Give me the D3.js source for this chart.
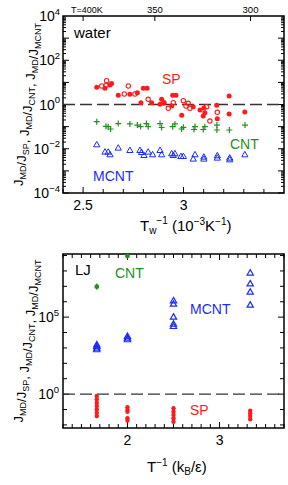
<!DOCTYPE html>
<html><head><meta charset="utf-8">
<script src="https://cdn.jsdelivr.net/npm/d3@7"></script>
<style>
body{margin:0;background:#fff}
svg{display:block}
text{font-family:"Liberation Sans",Arial,Helvetica,sans-serif}
</style>
</head><body>
<svg id="c" width="288" height="485"></svg>
<script>
// ---------- DATA ----------
// Top panel: water, x = 1/Tw (10^-3 K^-1), y = ratio
const waterSPFilled = [
 [2.568,5.98],[2.609,5.40],[2.634,7.60],[2.642,8.89],[2.675,2.61],[2.733,2.89],
 [2.770,3.41],[2.800,5.40],[2.819,5.40],[2.788,1.21],[2.841,1.21],[2.883,1.02],
 [2.891,1.72],[2.946,2.61],[2.962,2.61],[2.941,0.855],[2.991,0.325],[3.048,0.794],
 [3.098,0.302],[3.106,0.426],[3.165,0.92],[3.168,0.228],[3.227,2.42],[3.227,0.372],
 [3.305,0.458],[2.902,1.17],[3.082,0.56],[3.101,0.69]
];
const waterSPOpen = [
 [2.593,6.85],[2.617,11.9],[2.614,7.23],[2.725,6.85],[2.705,2.99],[2.758,2.99],
 [2.824,1.72],[2.902,1.21],[2.924,0.673],[2.999,1.49],[3.023,1.13],[3.032,0.673],
 [3.012,0.85],[3.115,0.794],[3.168,0.444],[3.131,0.179],[2.949,1.21]
];
const waterCNT = [
 [2.568,0.167],[2.614,0.103],[2.625,0.0993],[2.637,0.0782],[2.675,0.138],[2.733,0.132],
 [2.770,0.118],[2.786,0.101],[2.815,0.138],[2.824,0.0993],[2.883,0.138],[2.891,0.0912],
 [2.946,0.0993],[2.957,0.132],[2.990,0.0782],[2.999,0.0931],[3.052,0.0741],[3.057,0.101],
 [3.098,0.0741],[3.106,0.0993],[3.166,0.118],[3.166,0.0703],[3.228,0.0703],[3.306,0.118]
];
const waterMCNT = [
 [2.568,0.01476],[2.609,0.0069],[2.625,0.0069],[2.634,0.00522],[2.675,0.01047],[2.733,0.00817],
 [2.783,0.00817],[2.791,0.00662],[2.803,0.00485],[2.824,0.0069],[2.846,0.00522],[2.883,0.00817],
 [2.891,0.00522],[2.941,0.00579],[2.957,0.00579],[2.949,0.00485],[2.987,0.00437],[2.999,0.00437],
 [3.048,0.00333],[3.057,0.00522],[3.101,0.00411],[3.101,0.00333],[3.168,0.0047],[3.168,0.0037],
 [3.230,0.0037],[3.230,0.0031],[3.305,0.00522]
];
const waterXDomain = [2.4, 3.5];
const waterYDomain = [1e-4, 1e4];
const waterXTickLabels = [2.5, 3];
const waterYTickExps = [-4, -2, 0, 2, 4];
const waterTopTemps = [400, 350, 300];
const waterTopLabels = ["T=400K", "350", "300"];

// Bottom panel: LJ, x = 1/T (kB/eps), y = ratio
const ljCNT = [[1.667, 9.5e6], [2.0, 9.3e8]];
const ljCNTErr = [[6.0e6, 1.5e7], [6.5e8, 1.3e9]];
const ljMCNT = [
 [1.667,1550],[1.667,1230],[1.667,955],[1.667,741],
 [2.0,5370],[2.0,4270],[2.0,3310],
 [2.5,1.12e6],[2.5,6.76e5],[2.5,9.8e4],[2.5,3.39e4],[2.5,2.4e4],
 [3.333,7.08e7],[3.333,1.41e7],[3.333,4.07e6],[3.333,5.89e5]
];
const ljSP = [
 [1.667,0.759],[1.667,0.462],[1.667,0.278],[1.667,0.170],[1.667,0.104],[1.667,0.0624],[1.667,0.038],
 [2.0,0.140],[2.0,0.0933],[2.0,0.0724],[2.0,0.0269],[2.0,0.0191],
 [2.5,0.120],[2.5,0.0724],[2.5,0.0447],[2.5,0.0269],[2.5,0.0162],
 [3.333,0.0832],[3.333,0.0575],[3.333,0.038],[3.333,0.0234]
];
const ljXDomain = [1.3, 3.7];
const ljYDomain = [Math.pow(10,-2.2), Math.pow(10,9.1)];
const ljXTickLabels = [2, 3];
const ljYTickExps = [0, 5];

// ---------- DRAWING ----------
const RED = "#ff1a1a", GREEN = "#229022", BLUE = "#1a2cff";
const svg = d3.select("#c");

const L = 63, R = 284;
const T1 = 16, B1 = 193, T2 = 254, B2 = 428;

const xT = d3.scaleLinear().domain(waterXDomain).range([L, R]);
const yT = d3.scaleLog().domain(waterYDomain).range([B1, T1]);
const xB = d3.scaleLinear().domain(ljXDomain).range([L, R]);
const yB = d3.scaleLog().domain(ljYDomain).range([B2, T2]);

function vline(g, x, y, len) {
  g.append("line").attr("x1", x).attr("x2", x).attr("y1", y).attr("y2", y + len)
   .attr("stroke", "#000").attr("stroke-width", 1);
}
function hline(g, x, y, len) {
  g.append("line").attr("x1", x).attr("x2", x + len).attr("y1", y).attr("y2", y)
   .attr("stroke", "#000").attr("stroke-width", 1);
}

function supLabel(g, x, y, base, exp, fs, anchor) {
  const t = g.append("text").attr("x", x).attr("y", y).attr("font-size", fs)
    .attr("text-anchor", anchor || "end").attr("fill", "#000");
  t.append("tspan").text(base);
  t.append("tspan").attr("font-size", fs * 0.68).attr("dy", -fs * 0.45).text(exp);
  return t;
}

function yTitle(g, x, y) {
  const t = g.append("text").attr("transform", `translate(${x},${y}) rotate(-90)`)
    .attr("text-anchor", "middle").attr("font-size", 13).attr("fill", "#000");
  const parts = [["J","MD"],["/J","SP"],[", J","MD"],["/J","CNT"],[", J","MD"],["/J","MCNT"]];
  parts.forEach(([m, s]) => {
    t.append("tspan").attr("font-size", 13).attr("dy", 0).text(m);
    t.append("tspan").attr("font-size", 9).attr("dy", 3).text(s);
    t.append("tspan").attr("font-size", 13).attr("dy", -3).text("");
  });
}

// ===== Top panel =====
const gT = svg.append("g");
gT.append("rect").attr("x", L).attr("y", T1).attr("width", R - L).attr("height", B1 - T1)
  .attr("fill", "none").attr("stroke", "#000").attr("stroke-width", 1.5);
d3.range(24, 35).forEach(i => {
  const v = i / 10;
  const major = Math.abs(v * 2 - Math.round(v * 2)) < 1e-6;
  vline(gT, xT(v), B1, major ? -6 : -4);
});
waterTopTemps.forEach((T, i) => {
  const x = xT(1000 / T);
  vline(gT, x, T1, 5);
  if (i === 0) {
    gT.append("text").attr("x", 71).attr("y", 12.5).attr("font-size", 9)
      .attr("text-anchor", "start").text(waterTopLabels[i]);
  } else {
    gT.append("text").attr("x", x).attr("y", 12.5).attr("font-size", 9.5)
      .attr("text-anchor", "middle").text(waterTopLabels[i]);
  }
});
for (let e = -4; e < 4; e++) {
  for (let k = 1; k < 10; k++) {
    const v = k * Math.pow(10, e);
    const y = yT(v);
    const len = k === 1 ? 6 : 3;
    hline(gT, L, y, len);
    hline(gT, R, y, -len);
  }
}
waterYTickExps.forEach(e => {
  supLabel(gT, 60, yT(Math.pow(10, e)) + 5, "10", e < 0 ? "\u2212" + (-e) : String(e), 14);
});
waterXTickLabels.forEach(v => {
  gT.append("text").attr("x", xT(v)).attr("y", 210).attr("font-size", 14)
    .attr("text-anchor", "middle").text(String(v));
});
{
  const t = gT.append("text").attr("x", 140).attr("y", 231).attr("font-size", 15);
  t.append("tspan").text("T");
  t.append("tspan").attr("font-size", 10).attr("dy", 3).text("w");
  t.append("tspan").attr("font-size", 10).attr("dy", -10).text("\u22121");
  t.append("tspan").attr("font-size", 15).attr("dy", 7).text(" (10");
  t.append("tspan").attr("font-size", 10).attr("dy", -6).text("\u22123");
  t.append("tspan").attr("font-size", 15).attr("dy", 6).text("K");
  t.append("tspan").attr("font-size", 10).attr("dy", -6).text("\u22121");
  t.append("tspan").attr("font-size", 15).attr("dy", 6).text(")");
}
yTitle(gT, 23, (T1 + B1) / 2);
gT.append("line").attr("x1", L).attr("x2", R).attr("y1", yT(1)).attr("y2", yT(1))
  .attr("stroke", "#333").attr("stroke-width", 1.4).attr("stroke-dasharray", "12,5");

const tri = d3.symbol(d3.symbolTriangle, 17);
gT.append("g").selectAll("path").data(waterMCNT).join("path")
  .attr("d", tri).attr("transform", d => `translate(${xT(d[0])},${yT(d[1])})`)
  .attr("fill", "none").attr("stroke", BLUE).attr("stroke-width", 1);
gT.append("g").selectAll("path").data(waterCNT).join("path")
  .attr("d", "M-3,0H3M0,-3V3").attr("transform", d => `translate(${xT(d[0])},${yT(d[1])})`)
  .attr("stroke", GREEN).attr("stroke-width", 1.2).attr("fill", "none");
gT.append("g").selectAll("circle").data(waterSPOpen).join("circle")
  .attr("cx", d => xT(d[0])).attr("cy", d => yT(d[1])).attr("r", 2.2)
  .attr("fill", "none").attr("stroke", RED).attr("stroke-width", 1.1);
gT.append("g").selectAll("circle").data(waterSPFilled).join("circle")
  .attr("cx", d => xT(d[0])).attr("cy", d => yT(d[1])).attr("r", 2.5)
  .attr("fill", RED);

gT.append("text").attr("x", 74).attr("y", 38).attr("font-size", 15).text("water");
gT.append("text").attr("x", 162).attr("y", 83.5).attr("font-size", 14).attr("fill", RED).text("SP");
gT.append("text").attr("x", 230).attr("y", 148.5).attr("font-size", 14).attr("fill", GREEN).text("CNT");
gT.append("text").attr("x", 93).attr("y", 180.5).attr("font-size", 14).attr("fill", BLUE).text("MCNT");

// ===== Bottom panel =====
const gB = svg.append("g");
gB.append("rect").attr("x", L).attr("y", T2).attr("width", R - L).attr("height", B2 - T2)
  .attr("fill", "none").attr("stroke", "#000").attr("stroke-width", 1.5);
d3.range(13, 38).forEach(i => {
  const v = i / 10;
  const major = i % 10 === 0;
  vline(gB, xB(v), B2, major ? -6 : -4);
  vline(gB, xB(v), T2, major ? 6 : 4);
});
for (let e = -2; e <= 9; e++) {
  const y = yB(Math.pow(10, e));
  const len = (e % 5 === 0) ? 6 : 4;
  hline(gB, L, y, len);
  hline(gB, R, y, -len);
}
ljYTickExps.forEach(e => {
  supLabel(gB, 59, yB(Math.pow(10, e)) + 5, "10", String(e), 14);
});
ljXTickLabels.forEach(v => {
  gB.append("text").attr("x", xB(v)).attr("y", 445).attr("font-size", 14)
    .attr("text-anchor", "middle").text(String(v));
});
{
  const t = gB.append("text").attr("x", 147).attr("y", 471.5).attr("font-size", 15);
  t.append("tspan").text("T");
  t.append("tspan").attr("font-size", 10).attr("dy", -6).text("\u22121");
  t.append("tspan").attr("font-size", 15).attr("dy", 6).text(" (k");
  t.append("tspan").attr("font-size", 10).attr("dy", 3).text("B");
  t.append("tspan").attr("font-size", 15).attr("dy", -3).text("/\u03b5)");
}
yTitle(gB, 23, (T2 + B2) / 2);
gB.append("line").attr("x1", L).attr("x2", R).attr("y1", yB(1)).attr("y2", yB(1))
  .attr("stroke", "#333").attr("stroke-width", 1.4).attr("stroke-dasharray", "12,5");

gB.append("g").selectAll("line").data(ljCNTErr).join("line")
  .attr("x1", (d, i) => xB(ljCNT[i][0])).attr("x2", (d, i) => xB(ljCNT[i][0]))
  .attr("y1", d => yB(d[0])).attr("y2", d => yB(d[1]))
  .attr("stroke", GREEN).attr("stroke-width", 1.2);
gB.append("g").selectAll("circle").data(ljCNT).join("circle")
  .attr("cx", d => xB(d[0])).attr("cy", d => yB(d[1])).attr("r", 2.4).attr("fill", GREEN);
const tri2 = d3.symbol(d3.symbolTriangle, 17);
gB.append("g").selectAll("path").data(ljMCNT).join("path")
  .attr("d", tri2).attr("transform", d => `translate(${xB(d[0])},${yB(d[1])})`)
  .attr("fill", "none").attr("stroke", BLUE).attr("stroke-width", 1.2);
gB.append("g").selectAll("circle").data(ljSP).join("circle")
  .attr("cx", d => xB(d[0])).attr("cy", d => yB(d[1])).attr("r", 2.2).attr("fill", RED);

gB.append("text").attr("x", 75).attr("y", 275).attr("font-size", 15).text("LJ");
gB.append("text").attr("x", 115).attr("y", 277.5).attr("font-size", 14).attr("fill", GREEN).text("CNT");
gB.append("text").attr("x", 190).attr("y", 313.5).attr("font-size", 14).attr("fill", BLUE).text("MCNT");
gB.append("text").attr("x", 190).attr("y", 415).attr("font-size", 14).attr("fill", RED).text("SP");
</script>
</body></html>
